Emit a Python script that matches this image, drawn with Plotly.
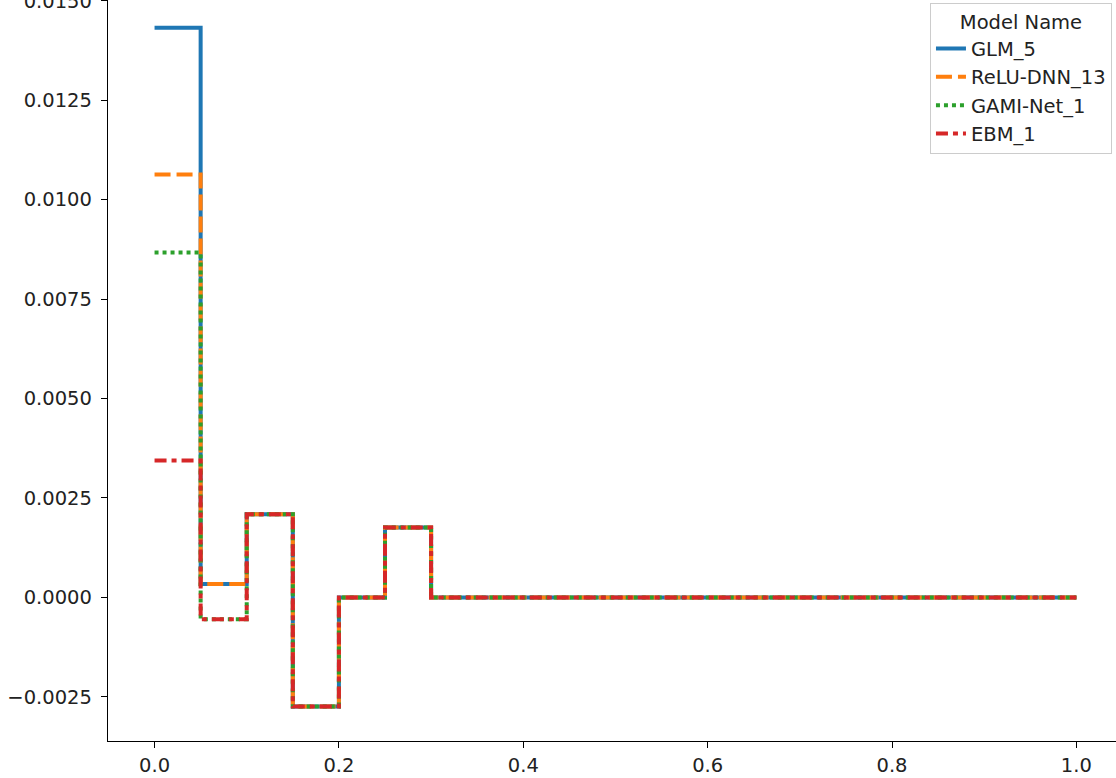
"""Step-shaped effect curves per model."""
import plotly.graph_objects as go

# bin edges (steps-post), shared by all models
x_vals = [0.0, 0.05, 0.1, 0.15, 0.2, 0.25, 0.3, 0.35, 0.4, 0.45, 0.5,
          0.55, 0.6, 0.65, 0.7, 0.75, 0.8, 0.85, 0.9, 0.95, 1.0]

tail = [0.0] * 14

glm_5 = [0.01432, 0.00034, 0.00209, -0.00274, 0.0, 0.00176, 0.0] + tail
relu_dnn_13 = [0.01063, 0.00034, 0.00209, -0.00274, 0.0, 0.00176, 0.0] + tail
gami_net_1 = [0.00867, -0.00055, 0.00209, -0.00274, 0.0, 0.00176, 0.0] + tail
ebm_1 = [0.00344, -0.00055, 0.00209, -0.00274, 0.0, 0.00176, 0.0] + tail

model_names = ["GLM_5", "ReLU-DNN_13", "GAMI-Net_1", "EBM_1"]
series = [glm_5, relu_dnn_13, gami_net_1, ebm_1]
colors = ["#1f77b4", "#ff7f0e", "#2ca02c", "#d62728"]
dashes = ["solid", "16px,6px", "4px,4px", "12px,5px,5px,5px"]

FONT = dict(family="DejaVu Sans", size=19.5, color="#222222")

fig = go.Figure()
for name, ys, col, dash in zip(model_names, series, colors, dashes):
    fig.add_trace(go.Scatter(
        x=x_vals, y=ys, name=name, mode="lines",
        line=dict(color=col, width=4, dash=dash, shape="hv"),
    ))

axis_common = dict(
    showline=True, linecolor="black", linewidth=1.3, mirror=False,
    ticks="outside", ticklen=6, tickwidth=1.3, tickcolor="black",
    showgrid=False, zeroline=False, tickfont=FONT,
    ticklabeloverflow="allow", automargin=False,
)

fig.update_xaxes(range=[-0.0505, 1.043], tickvals=[0, 0.2, 0.4, 0.6, 0.8, 1.0],
                 tickformat=".1f", ticklabelstandoff=0, **axis_common)
fig.update_yaxes(range=[-0.00361, 0.01502],
                 tickvals=[-0.0025, 0.0, 0.0025, 0.005, 0.0075, 0.01, 0.0125, 0.015],
                 tickformat=".4f", ticklabelstandoff=5, **axis_common)

fig.update_layout(
    width=1116, height=778,
    margin=dict(l=108, r=0, t=0, b=37),
    plot_bgcolor="white", paper_bgcolor="white",
    font=FONT,
    legend=dict(
        title=dict(text="Model Name", side="top center", font=FONT),
        x=0.996, y=0.996, xanchor="right", yanchor="top",
        bgcolor="rgba(255,255,255,0.8)", bordercolor="#cccccc", borderwidth=1,
        font=FONT, tracegroupgap=0,
    ),
    showlegend=True,
)

# drop the default page margin so the figure sits at the window's corner
fig.write_html("out.html", config={"displayModeBar": False},
               post_script="document.body.style.margin='0';")
